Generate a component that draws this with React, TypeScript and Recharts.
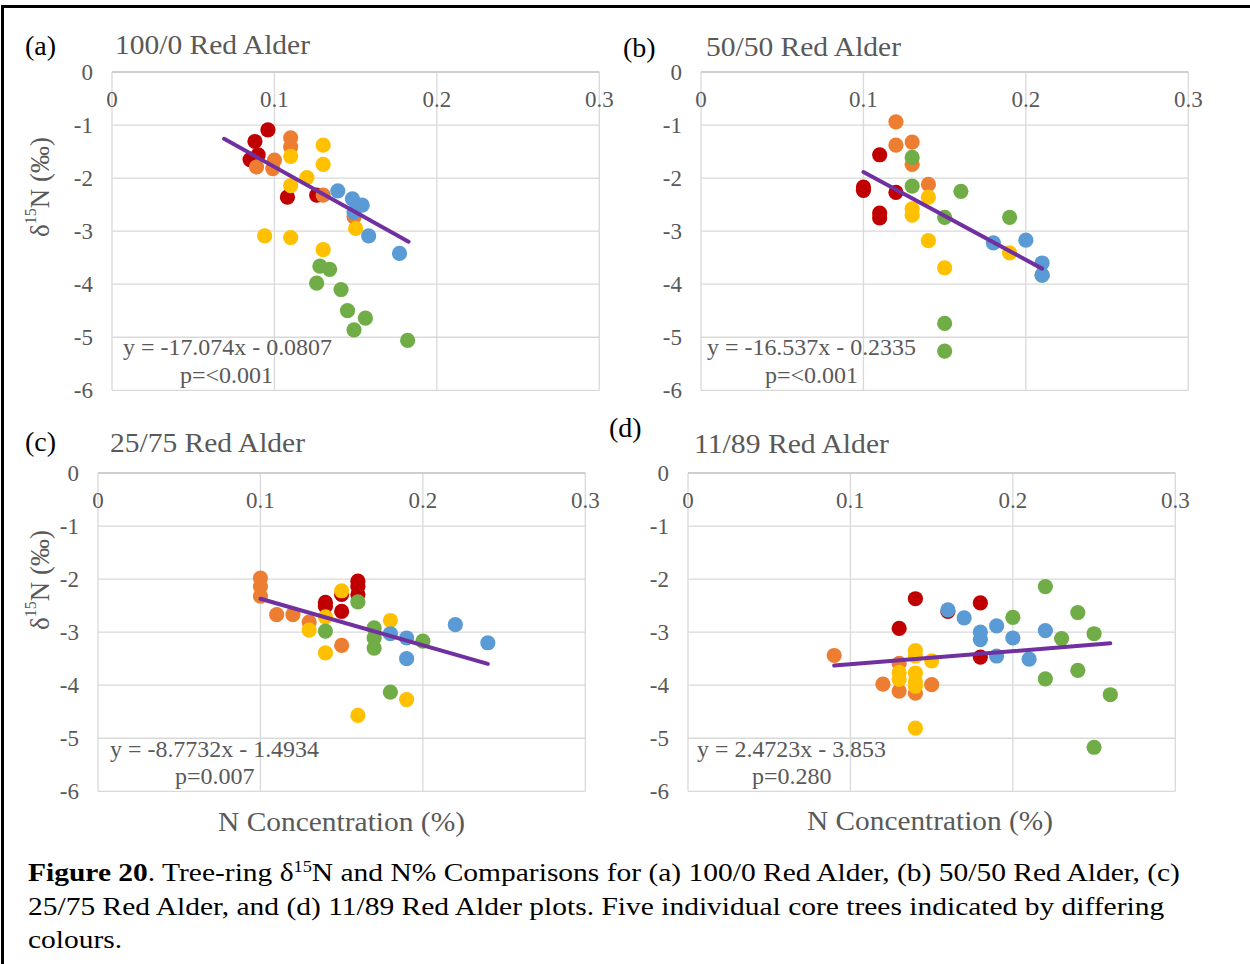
import React from "react"
import { ScatterChart, Scatter, XAxis, YAxis, CartesianGrid } from "recharts"

const FONT = '"Liberation Serif", "Times New Roman", serif'
const GRAY = "#595959"

const xTicks = [0, 0.1, 0.2, 0.3]
const yTicks = [0, -1, -2, -3, -4, -5, -6]

// tree colours, in drawing order
const treeColors = ["#C00000", "#ED7D31", "#FFC000", "#70AD47", "#5B9BD5"]

// (a) 100/0 Red Alder  [N %, d15N]
const aRed = [[0.096, -1.09], [0.088, -1.31], [0.09, -1.56], [0.085, -1.65], [0.108, -2.36], [0.126, -2.32]]
const aOrange = [[0.11, -1.24], [0.11, -1.41], [0.1, -1.66], [0.089, -1.79], [0.099, -1.82], [0.13, -2.32], [0.149, -2.73]]
const aYellow = [[0.13, -1.38], [0.13, -1.74], [0.11, -1.59], [0.12, -1.99], [0.11, -2.14], [0.15, -2.95], [0.094, -3.09], [0.11, -3.12], [0.13, -3.35]]
const aGreen = [[0.128, -3.66], [0.134, -3.72], [0.126, -3.98], [0.141, -4.1], [0.145, -4.5], [0.156, -4.64], [0.149, -4.86], [0.182, -5.06]]
const aBlue = [[0.139, -2.24], [0.148, -2.39], [0.154, -2.51], [0.149, -2.64], [0.158, -3.09], [0.177, -3.42]]

// (b) 50/50 Red Alder
const bRed = [[0.11, -1.56], [0.1, -2.17], [0.1, -2.23], [0.12, -2.27], [0.11, -2.66], [0.11, -2.75]]
const bOrange = [[0.12, -0.94], [0.12, -1.38], [0.13, -1.32], [0.13, -1.74], [0.14, -2.12]]
const bYellow = [[0.14, -2.36], [0.13, -2.58], [0.13, -2.7], [0.14, -3.18], [0.15, -3.69], [0.19, -3.41]]
const bGreen = [[0.13, -1.61], [0.13, -2.15], [0.16, -2.25], [0.15, -2.74], [0.19, -2.74], [0.15, -4.74], [0.15, -5.26], [0.21, -3.83]]
const bBlue = [[0.18, -3.22], [0.2, -3.17], [0.21, -3.6], [0.21, -3.83]]

// (c) 25/75 Red Alder
const cRed = [[0.16, -2.04], [0.16, -2.14], [0.16, -2.29], [0.14, -2.44], [0.14, -2.51], [0.15, -2.29], [0.15, -2.61]]
const cOrange = [[0.1, -1.98], [0.1, -2.14], [0.1, -2.32], [0.11, -2.67], [0.12, -2.67], [0.13, -2.81], [0.15, -3.25]]
const cYellow = [[0.15, -2.22], [0.14, -2.71], [0.13, -2.96], [0.14, -3.39], [0.18, -2.78], [0.19, -4.27], [0.16, -4.57]]
const cGreen = [[0.16, -2.43], [0.14, -2.98], [0.17, -2.92], [0.17, -3.11], [0.17, -3.3], [0.2, -3.17], [0.18, -4.13]]
const cBlue = [[0.18, -3.03], [0.19, -3.11], [0.19, -3.5], [0.22, -2.86], [0.24, -3.2]]

// (d) 11/89 Red Alder
const dRed = [[0.14, -2.37], [0.13, -2.93], [0.18, -2.45], [0.18, -3.47], [0.16, -2.61]]
const dOrange = [[0.09, -3.44], [0.12, -3.98], [0.13, -3.59], [0.13, -4.11], [0.14, -4.15], [0.15, -3.99]]
const dYellow = [[0.14, -3.35], [0.14, -3.45], [0.13, -3.76], [0.13, -3.89], [0.14, -3.77], [0.14, -3.93], [0.14, -4.02], [0.15, -3.54], [0.14, -4.81]]
const dGreen = [[0.22, -2.14], [0.2, -2.72], [0.24, -2.63], [0.23, -3.12], [0.25, -3.03], [0.22, -3.88], [0.24, -3.72], [0.26, -4.18], [0.25, -5.17]]
const dBlue = [[0.16, -2.58], [0.17, -2.73], [0.18, -3.0], [0.18, -3.14], [0.19, -2.88], [0.2, -3.11], [0.19, -3.45], [0.21, -3.51], [0.22, -2.97]]

// linear trendlines (slope, intercept as printed) and their x extent
const trendSlope = [-17.074, -16.537, -8.7732, 2.4723]
const trendIntercept = [-0.0807, -0.2335, -1.4934, -3.853]
const trendXStart = [0.069, 0.1, 0.1, 0.09]
const trendXEnd = [0.1826, 0.21, 0.24, 0.26]

const panelLetters = ["(a)", "(b)", "(c)", "(d)"]
const panelTitles = ["100/0 Red Alder", "50/50 Red Alder", "25/75 Red Alder", "11/89 Red Alder"]
const equations = ["y = -17.074x - 0.0807", "y = -16.537x - 0.2335", "y = -8.7732x - 1.4934", "y = 2.4723x - 3.853"]
const pValues = ["p=<0.001", "p=<0.001", "p=0.007", "p=0.280"]

const panelSeries = [
  [aRed, aOrange, aYellow, aGreen, aBlue],
  [bRed, bOrange, bYellow, bGreen, bBlue],
  [cRed, cOrange, cYellow, cGreen, cBlue],
  [dRed, dOrange, dYellow, dGreen, dBlue],
]

// layout (plot-area top-left corners)
const PLOT_W = 487.3
const PLOT_H = 318.3
const Y_AXIS_W = 60
const X_AXIS_H = 10
const M_TOP = 20
const M_RIGHT = 30
const M_BOTTOM = 20
const plotPos = [
  { left: 111.7, top: 71.7 },
  { left: 701, top: 71.7 },
  { left: 98.3, top: 473.3 },
  { left: 687.7, top: 473.3 },
]

const XTick = (props: any) => (
  <text
    x={props.x}
    y={M_TOP + X_AXIS_H + 35}
    textAnchor="middle"
    fill={GRAY}
    fontSize={23}
    fontFamily={FONT}
  >
    {props.payload.value}
  </text>
)

const YTick = (props: any) => (
  <text
    x={Y_AXIS_W - 19}
    y={props.y}
    dy="0.35em"
    textAnchor="end"
    fill={GRAY}
    fontSize={23}
    fontFamily={FONT}
  >
    {props.payload.value}
  </text>
)

const toPoints = (pairs: number[][]) => pairs.map(([x, y]) => ({ x, y }))

function Panel({ idx }: { idx: number }) {
  const pos = plotPos[idx]
  const trend = [
    { x: trendXStart[idx], y: trendSlope[idx] * trendXStart[idx] + trendIntercept[idx] },
    { x: trendXEnd[idx], y: trendSlope[idx] * trendXEnd[idx] + trendIntercept[idx] },
  ]
  return (
    <div style={{ position: "absolute", left: pos.left - Y_AXIS_W, top: pos.top - X_AXIS_H - M_TOP }}>
      <ScatterChart
        width={PLOT_W + Y_AXIS_W + M_RIGHT}
        height={PLOT_H + X_AXIS_H + M_TOP + M_BOTTOM}
        margin={{ top: M_TOP, right: M_RIGHT, bottom: M_BOTTOM, left: 0 }}
      >
        <CartesianGrid stroke="#D9D9D9" strokeWidth={1.3} />
        <XAxis
          type="number"
          dataKey="x"
          orientation="top"
          height={X_AXIS_H}
          domain={[0, 0.3]}
          ticks={xTicks}
          interval={0}
          tickLine={false}
          axisLine={{ stroke: "#C8C8C8", strokeWidth: 1.3 }}
          tick={XTick}
        />
        <YAxis
          type="number"
          dataKey="y"
          width={Y_AXIS_W}
          domain={[-6, 0]}
          ticks={yTicks}
          interval={0}
          tickLine={false}
          axisLine={false}
          tick={YTick}
        />
        {panelSeries[idx].map((s, i) => (
          <Scatter
            key={i}
            data={toPoints(s)}
            fill={treeColors[i]}
            isAnimationActive={false}
            shape={(p: any) => <circle cx={p.cx} cy={p.cy} r={7.6} fill={treeColors[i]} />}
          />
        ))}
        <Scatter
          data={trend}
          fill="#7030A0"
          line={{ stroke: "#7030A0", strokeWidth: 4, strokeLinecap: "round" }}
          shape={() => <g />}
          isAnimationActive={false}
        />
      </ScatterChart>
    </div>
  )
}

const letterPos = [
  { x: 25, y: 45 },
  { x: 623, y: 47 },
  { x: 25, y: 441 },
  { x: 609, y: 427 },
]
const titlePos = [
  { x: 115, y: 45 },
  { x: 706, y: 47 },
  { x: 110, y: 443 },
  { x: 694, y: 444 },
]
const eqPos = [
  { x: 123, y: 347, w: 209, px: 180, py: 375, pw: 92 },
  { x: 707, y: 347, w: 209, px: 765, py: 375, pw: 92 },
  { x: 110, y: 749, w: 209, px: 175, py: 776, pw: 80 },
  { x: 697, y: 749, w: 189, px: 752, py: 776, pw: 80 },
]

const YTitle = ({ cx, cy }: { cx: number; cy: number }) => (
  <text
    transform={`translate(${cx},${cy}) rotate(-90)`}
    textAnchor="middle"
    dominantBaseline="central"
    fill={GRAY}
    fontSize={27}
    fontFamily={FONT}
  >
    δ
    <tspan fontSize={16} dy={-10}>15</tspan>
    <tspan dy={10}>N (‰)</tspan>
  </text>
)

export default function App() {
  return (
    <div style={{ position: "absolute", left: 0, top: 0, width: 1250, height: 964, background: "#fff", overflow: "hidden" }}>
      <div
        style={{
          position: "absolute",
          left: 1,
          top: 5,
          width: 1249,
          height: 959,
          borderTop: "3px solid #000",
          borderLeft: "3px solid #000",
        }}
      />
      {[0, 1, 2, 3].map((i) => (
        <Panel key={i} idx={i} />
      ))}
      <svg width={1250} height={964} style={{ position: "absolute", left: 0, top: 0, pointerEvents: "none" }}>
        {panelLetters.map((t, i) => (
          <text key={t} x={letterPos[i].x} y={letterPos[i].y} dominantBaseline="central" fontSize={28} fontFamily={FONT} fill="#000">
            {t}
          </text>
        ))}
        {panelTitles.map((t, i) => (
          <text
            key={t}
            x={titlePos[i].x}
            y={titlePos[i].y}
            dominantBaseline="central"
            fontSize={27}
            fontFamily={FONT}
            fill={GRAY}
            textLength={195}
            lengthAdjust="spacingAndGlyphs"
          >
            {t}
          </text>
        ))}
        {equations.map((t, i) => (
          <g key={t}>
            <text
              x={eqPos[i].x}
              y={eqPos[i].y}
              dominantBaseline="central"
              fontSize={23}
              fontFamily={FONT}
              fill={GRAY}
              textLength={eqPos[i].w}
              lengthAdjust="spacingAndGlyphs"
            >
              {t}
            </text>
            <text x={eqPos[i].px} y={eqPos[i].py} dominantBaseline="central" fontSize={24} fontFamily={FONT} fill={GRAY}>
              {pValues[i]}
            </text>
          </g>
        ))}
        <YTitle cx={40} cy={187} />
        <YTitle cx={40} cy={580} />
        <text
          x={218}
          y={822}
          dominantBaseline="central"
          fontSize={27}
          fontFamily={FONT}
          fill={GRAY}
          textLength={247}
          lengthAdjust="spacingAndGlyphs"
        >
          N Concentration (%)
        </text>
        <text
          x={807}
          y={821}
          dominantBaseline="central"
          fontSize={27}
          fontFamily={FONT}
          fill={GRAY}
          textLength={246}
          lengthAdjust="spacingAndGlyphs"
        >
          N Concentration (%)
        </text>
      </svg>
      <div
        style={{
          position: "absolute",
          left: 28,
          top: 856,
          fontFamily: FONT,
          fontSize: 26,
          lineHeight: "33.5px",
          whiteSpace: "nowrap",
          color: "#000",
          transform: "scaleX(1.134)",
          transformOrigin: "0 0",
        }}
      >
        <b>Figure 20</b>. Tree-ring δ
        <span style={{ fontSize: "0.62em", verticalAlign: "0.55em", lineHeight: 0 }}>15</span>N and N% Comparisons for (a) 100/0 Red
        Alder, (b) 50/50 Red Alder, (c)
        <br />
        25/75 Red Alder, and (d) 11/89 Red Alder plots. Five individual core trees indicated by differing
        <br />
        colours.
      </div>
    </div>
  )
}
